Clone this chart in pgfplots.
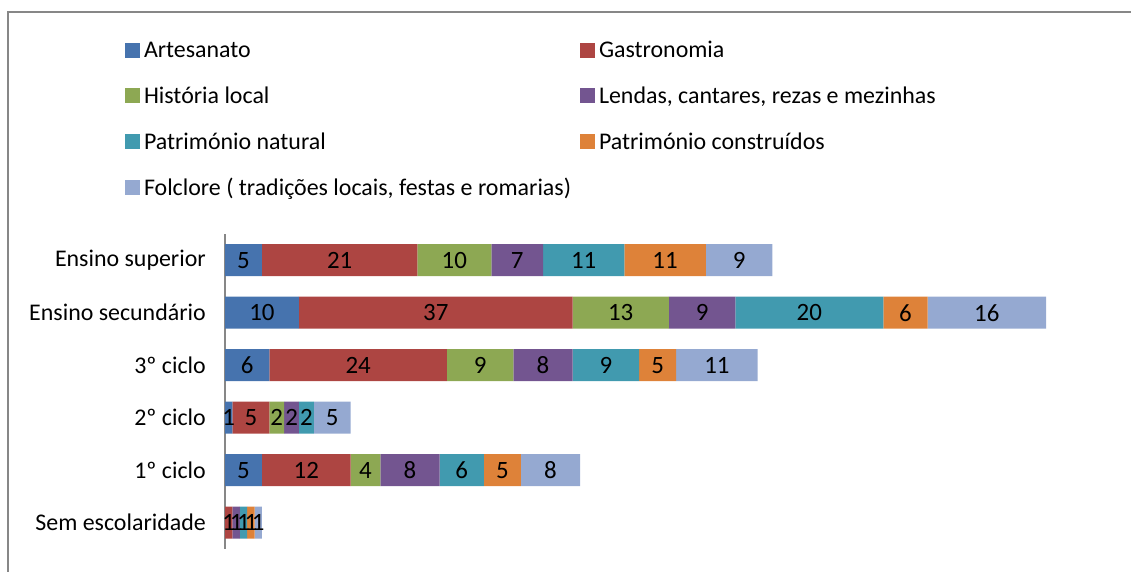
\documentclass[border=0pt]{standalone}
\usepackage{pgfplots}
\pgfplotsset{compat=1.18}
\usepackage{fontspec}
\setmainfont{Carlito}
\definecolor{c1}{HTML}{4673AE}
\definecolor{c2}{HTML}{AD4542}
\definecolor{c3}{HTML}{8DA853}
\definecolor{c4}{HTML}{735590}
\definecolor{c5}{HTML}{419AAF}
\definecolor{c6}{HTML}{DE8239}
\definecolor{c7}{HTML}{95A9D1}
\definecolor{frame}{HTML}{878787}
\newcommand{\legtxt}[1]{\makebox[436bp][l]{#1}}
\pgfplotsset{common/.style={
  at={(225bp,23bp)}, anchor=south west,
  scale only axis, width=821bp, height=315bp,
  xmin=0, xmax=111, ymin=-0.5, ymax=5.5}}
\begin{document}
\begin{tikzpicture}[x=1bp,y=1bp]
\clip (0,0) rectangle (1131,572);
\draw[color=frame, line width=1.5bp] (8,-20) -- (8,560) -- (1160,560);
\begin{axis}[
  common,
  xbar stacked, bar width=32bp,
  axis x line=none, axis y line*=left,
  y axis line style={color=frame, line width=1.5bp, -},
  ytick={0,1,2,3,4,5},
  yticklabels={Sem escolaridade, 1º ciclo, 2º ciclo, 3º ciclo, Ensino secundário, Ensino superior},
  major tick length=0pt,
  yticklabel style={font=\fontsize{24}{28}\selectfont, anchor=east, inner sep=0pt, xshift=-19bp},
  legend columns=2,
  legend style={draw=none, fill=none, at={(-0.1218,1.6594)}, anchor=north west, inner sep=0pt, outer sep=0pt,
     nodes={inner sep=0pt, outer sep=0pt, text height=31.7bp, text depth=14bp}, row sep=0pt, column sep=0pt, font=\fontsize{24}{28}\selectfont},
  legend cell align=left,
  legend image code/.code={\fill[#1, draw=none] (0bp,-8.5bp) rectangle (15bp,6.5bp); \path (19bp,0bp);},
]
% Artesanato, Gastronomia, Historia local, Lendas, Patrimonio natural, Patrimonio construidos, Folclore
\addplot[fill=c1, draw=none] coordinates {(0,0) (5,1) (1,2) (6,3) (10,4) (5,5)};
\addplot[fill=c2, draw=none] coordinates {(1,0) (12,1) (5,2) (24,3) (37,4) (21,5)};
\addplot[fill=c3, draw=none] coordinates {(0,0) (4,1) (2,2) (9,3) (13,4) (10,5)};
\addplot[fill=c4, draw=none] coordinates {(1,0) (8,1) (2,2) (8,3) (9,4) (7,5)};
\addplot[fill=c5, draw=none] coordinates {(1,0) (6,1) (2,2) (9,3) (20,4) (11,5)};
\addplot[fill=c6, draw=none] coordinates {(1,0) (5,1) (0,2) (5,3) (6,4) (11,5)};
\addplot[fill=c7, draw=none] coordinates {(1,0) (8,1) (5,2) (11,3) (16,4) (9,5)};
\legend{{\legtxt{Artesanato}}, {\legtxt{Gastronomia}}, {\legtxt{História local}}, {\legtxt{Lendas, cantares, rezas e mezinhas}}, {\legtxt{Património natural}}, {\legtxt{Património construídos}}, {\legtxt{Folclore ( tradições locais, festas e romarias)}}}
\end{axis}
% data labels at the middle of each segment
\begin{axis}[common, hide axis]
\addplot[draw=none, mark=none, point meta=explicit symbolic, nodes near coords,
  every node near coord/.style={anchor=center, inner sep=0pt, font=\fontsize{25}{29}\selectfont, color=black}]
  coordinates {
  (0.5,0) [1] (1.5,0) [1] (2.5,0) [1] (3.5,0) [1] (4.5,0) [1]
  (2.5,1) [5] (11,1) [12] (19,1) [4] (25,1) [8] (32,1) [6] (37.5,1) [5] (44,1) [8]
  (0.5,2) [1] (3.5,2) [5] (7,2) [2] (9,2) [2] (11,2) [2] (14.5,2) [5]
  (3,3) [6] (18,3) [24] (34.5,3) [9] (43,3) [8] (51.5,3) [9] (58.5,3) [5] (66.5,3) [11]
  (5,4) [10] (28.5,4) [37] (53.5,4) [13] (64.5,4) [9] (79,4) [20] (92,4) [6] (103,4) [16]
  (2.5,5) [5] (15.5,5) [21] (31,5) [10] (39.5,5) [7] (48.5,5) [11] (59.5,5) [11] (69.5,5) [9]
  };
\end{axis}
\end{tikzpicture}
\end{document}
